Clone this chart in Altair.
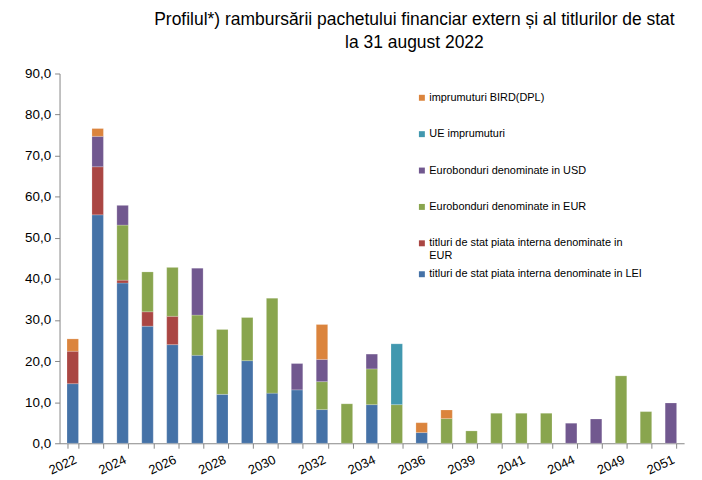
import altair as alt
import pandas as pd

years = ["2022", "2023", "2024", "2025", "2026", "2027", "2028", "2029", "2030", "2031",
         "2032", "2033", "2034", "2035", "2036", "2038", "2039", "2040", "2041", "2042",
         "2044", "2048", "2049", "2050", "2051"]
shown_labels = ["2022", "2024", "2026", "2028", "2030", "2032", "2034", "2036", "2039",
                "2041", "2044", "2049", "2051"]

lei = [14.5, 55.6, 39.0, 28.5, 24.0, 21.4, 11.9, 20.1, 12.2, 13.0, 8.2, 0, 9.4, 0, 2.6,
       0, 0, 0, 0, 0, 0, 0, 0, 0, 0]
titluri_eur = [7.9, 11.7, 0.7, 3.5, 6.9, 0, 0, 0, 0, 0, 0, 0, 0, 0, 0,
               0, 0, 0, 0, 0, 0, 0, 0, 0, 0]
euro_eur = [0, 0, 13.4, 9.7, 11.9, 9.8, 15.8, 10.5, 23.1, 0, 6.8, 9.6, 8.7, 9.4, 0,
            6.0, 3.0, 7.3, 7.3, 7.3, 0, 0, 16.4, 7.7, 0]
euro_usd = [0, 7.4, 4.8, 0, 0, 11.4, 0, 0, 0, 6.4, 5.4, 0, 3.6, 0, 0,
            0, 0, 0, 0, 0, 4.9, 5.9, 0, 0, 9.8]
ue = [0, 0, 0, 0, 0, 0, 0, 0, 0, 0, 0, 0, 0, 14.8, 0,
      0, 0, 0, 0, 0, 0, 0, 0, 0, 0]
bird = [3.0, 1.9, 0, 0, 0, 0, 0, 0, 0, 0, 8.5, 0, 0, 0, 2.4,
        2.1, 0, 0, 0, 0, 0, 0, 0, 0, 0]

series_names = [
    "titluri de stat piata interna denominate  in LEI",
    "titluri de stat piata interna denominate  in EUR",
    "Eurobonduri  denominate in EUR",
    "Eurobonduri denominate in USD",
    "UE imprumuturi",
    "imprumuturi BIRD(DPL)",
]
series_values = [lei, titluri_eur, euro_eur, euro_usd, ue, bird]
series_colors = ["#4572A7", "#AA4643", "#89A54E", "#71588F", "#4198AF", "#DB843D"]

# build stacked segments (bottom = LEI)
rows = []
for i, y in enumerate(years):
    base = 0.0
    for s_idx, (name, vals) in enumerate(zip(series_names, series_values)):
        v = vals[i]
        if v > 0:
            rows.append({"year": y, "series": name, "value": v,
                         "y0": base, "y1": base + v, "order": s_idx})
            base += v
df = pd.DataFrame(rows)
df_lei = df[df["series"] == series_names[0]]
df_rest = df[df["series"] != series_names[0]]

rest_domain = list(reversed(series_names[1:]))
rest_range = list(reversed(series_colors[1:]))

font = "Liberation Sans"

label_expr = (
    "datum.label == 'titluri de stat piata interna denominate  in EUR' ? "
    "['titluri de stat piata interna denominate  in', 'EUR'] : datum.label"
)
x_label_expr = "indexof(" + str(shown_labels) + ", datum.label) >= 0 ? datum.label : ''"

x_enc = alt.X("year:N", sort=years, title=None,
              scale=alt.Scale(domain=years, paddingInner=0.54, paddingOuter=0.3),
              axis=alt.Axis(labelAngle=-25, labelAlign="right", labelBaseline="top",
                            labelExpr=x_label_expr, labelFontSize=13, labelFont=font,
                            labelColor="#000000", tickBand="extent", tickSize=5,
                            tickColor="#868686", domainColor="#868686",
                            labelPadding=5, labelOverlap=False))
y_enc = alt.Y("y1:Q", title=None,
              scale=alt.Scale(domain=[0, 90], nice=False),
              axis=alt.Axis(values=list(range(0, 91, 10)), grid=False,
                            labelExpr="replace(format(datum.value, '.1f'), '.', ',')",
                            labelFontSize=13.5, labelFont=font, labelColor="#000000",
                            tickSize=5, tickColor="#868686", domainColor="#868686",
                            labelPadding=4))

legend_common = dict(title=None, orient="none", legendX=360,
                     symbolType="square", symbolSize=36, symbolStrokeWidth=0,
                     labelFontSize=11, labelFont=font, labelColor="#000000",
                     labelOffset=2, labelLimit=400)

bars_rest = alt.Chart(df_rest).mark_bar(stroke="#ffffff", strokeOpacity=0.4,
                                         strokeWidth=0.5).encode(
    x=x_enc,
    y=y_enc,
    y2="y0:Q",
    color=alt.Color("series:N",
                    scale=alt.Scale(domain=rest_domain, range=rest_range),
                    legend=alt.Legend(legendY=19, rowPadding=24.7,
                                      labelExpr=label_expr, **legend_common)),
)

bars_lei = alt.Chart(df_lei).mark_bar(stroke="#ffffff", strokeOpacity=0.4,
                                       strokeWidth=0.5).encode(
    x=x_enc,
    y=y_enc,
    y2="y0:Q",
    color=alt.Color("series:N",
                    scale=alt.Scale(domain=[series_names[0]], range=[series_colors[0]]),
                    legend=alt.Legend(legendY=197,
                                      labelExpr="' ' + datum.label", **legend_common)),
)

chart = alt.layer(bars_lei, bars_rest).resolve_scale(color="independent").properties(
    width=630,
    height=373,
    padding={"left": 52, "top": 64, "right": 10, "bottom": 35},
    autosize=alt.AutoSizeParams(type="none"),
    title=alt.TitleParams(
        text=["Profilul*) rambursării pachetului financiar extern și al titlurilor de stat",
              "la 31 august 2022"],
        anchor="middle", fontSize=17.6, font=font, fontWeight="normal", color="#000000",
        dx=43, offset=15, lineHeight=23,
    ),
).configure_view(stroke=None)

chart.save("out.html", embed_options={"renderer": "svg", "actions": False})
